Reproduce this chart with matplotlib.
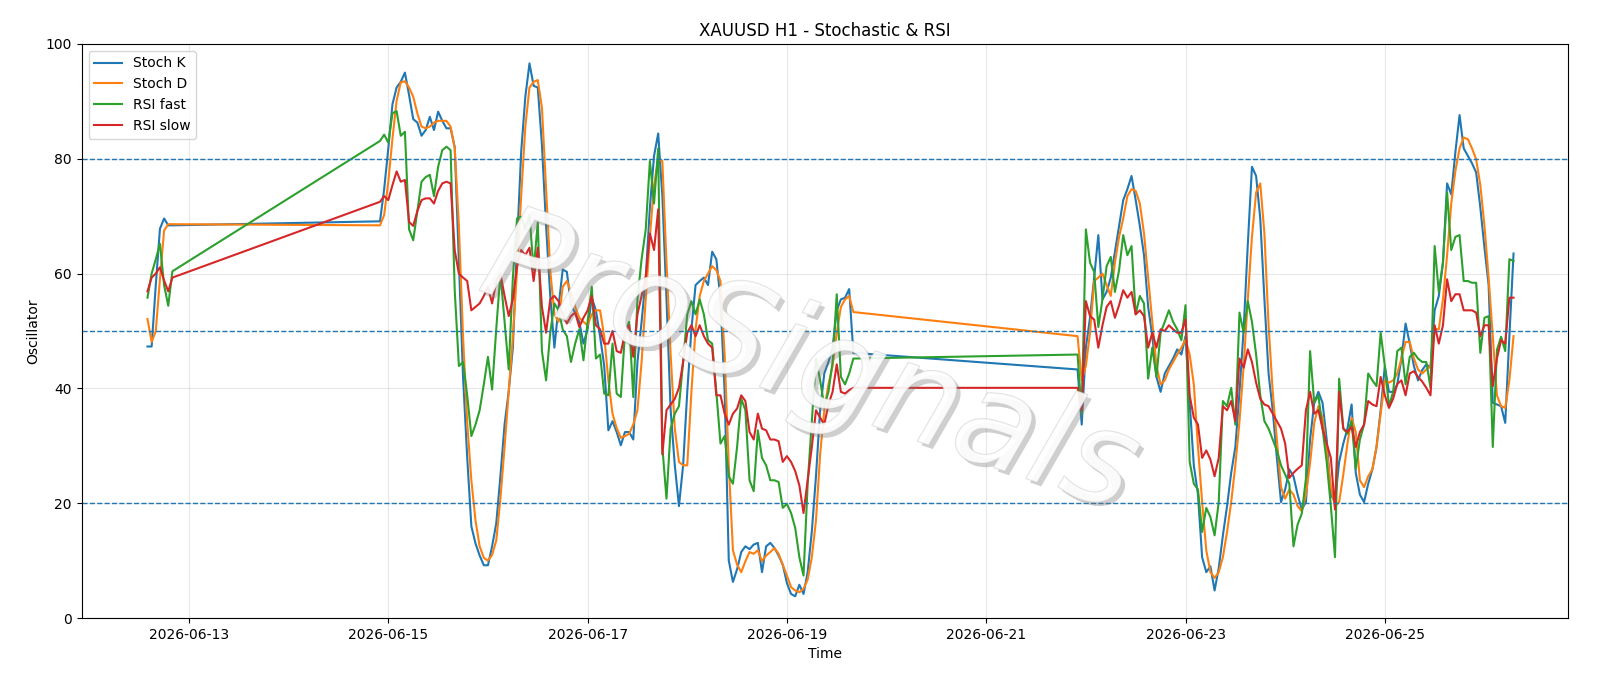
import pandas as pd
import numpy as np
import matplotlib
matplotlib.use('Agg')
import matplotlib.pyplot as plt
import matplotlib.patheffects as pe

# ============================================================
# DATA  (hourly bars, three trading sessions)
# ============================================================
fri_start = '2026-06-12 14:00'
wk1_start = '2026-06-14 22:00'
wk2_start = '2026-06-21 22:00'

stoch_k_fri = [47.3, 47.3, 58.0, 67.8, 69.6, 68.4, 68.4]
stoch_d_fri = [52.1, 48.1, 50.0, 59.0, 67.5, 68.6, 68.6]
rsi_fast_fri = [55.8, 60.0, 62.5, 65.2, 58.0, 54.4, 60.4]
rsi_slow_fri = [56.9, 59.3, 60.0, 61.1, 58.8, 56.9, 59.3]

stoch_k_wk1 = [
    69.1, 74.7, 81.8, 89.5, 92.4, 93.4, 95.0, 91.1, 86.9, 86.3,
    84.0, 85.0, 87.3, 85.0, 88.2, 86.6, 85.3, 85.3, 82.0, 62.0,
    42.0, 28.0, 16.0, 13.0, 10.9, 9.2, 9.2, 12.5, 16.5, 24.7,
    33.7, 39.5, 47.1, 65.1, 81.2, 90.8, 96.6, 92.7, 92.4, 82.4,
    68.3, 56.1, 47.1, 54.2, 60.7, 60.3, 54.5, 53.2, 51.6, 47.8,
    50.3, 55.8, 53.6, 49.1, 43.9, 32.7, 34.3, 32.4, 30.1, 32.4,
    32.4, 31.1, 44.6, 51.6, 59.3, 71.5, 80.5, 84.4, 73.5, 55.5,
    36.2, 26.6, 19.5, 26.6, 39.4, 50.3, 58.0, 58.7, 59.3, 58.0,
    63.8, 62.5, 55.5, 39.4, 10.0, 6.3, 8.5, 11.5, 12.5, 12.0,
    12.8, 13.1, 8.0, 12.5, 13.1, 12.2, 10.9, 9.3, 6.1, 4.2,
    3.8, 5.8, 4.2, 8.0, 15.1, 24.7, 36.2, 42.6, 44.6, 47.1,
    53.6, 55.5, 55.8, 57.3, 46.2]
stoch_d_wk1 = [
    68.4, 70.2, 76.0, 83.5, 90.1, 93.3, 93.5, 92.4, 90.8, 87.9,
    85.6, 85.3, 85.6, 86.3, 86.6, 86.6, 86.6, 85.6, 81.8, 68.3,
    49.0, 34.0, 24.0, 17.0, 12.5, 10.5, 10.0, 11.0, 13.5, 20.8,
    29.8, 39.4, 49.0, 60.6, 73.5, 85.6, 92.4, 93.4, 93.7, 88.9,
    74.7, 60.6, 52.9, 51.6, 57.7, 58.7, 56.8, 54.2, 52.3, 51.6,
    51.0, 52.9, 53.6, 53.6, 49.1, 41.4, 35.6, 33.1, 31.4, 31.7,
    32.1, 33.7, 36.2, 44.6, 55.5, 66.4, 75.4, 79.9, 79.6, 61.9,
    45.9, 33.0, 27.2, 26.6, 26.6, 39.4, 50.3, 56.1, 58.7, 60.0,
    61.3, 60.6, 58.7, 45.9, 26.6, 11.8, 9.3, 8.0, 9.9, 11.5,
    11.2, 11.8, 9.9, 10.9, 11.5, 12.2, 11.2, 9.3, 7.4, 5.4,
    4.8, 4.5, 5.1, 6.7, 10.6, 17.0, 28.5, 36.2, 40.7, 43.9,
    49.7, 54.2, 55.5, 56.1, 53.3]
rsi_fast_wk1 = [
    83.1, 84.2, 82.8, 87.9, 88.3, 84.0, 84.7, 67.7, 65.8, 70.9,
    76.0, 76.8, 77.2, 73.5, 78.6, 81.5, 82.1, 81.5, 57.0, 43.9,
    44.6, 38.8, 31.7, 33.7, 36.2, 40.7, 45.5, 39.8, 50.4, 60.0,
    51.6, 43.3, 59.3, 69.6, 69.9, 67.7, 70.2, 60.6, 68.9, 46.5,
    41.4, 49.7, 54.8, 53.6, 50.3, 49.1, 44.6, 47.8, 50.3, 44.9,
    51.6, 57.7, 45.2, 45.9, 39.1, 38.8, 47.8, 39.1, 38.5, 49.7,
    51.6, 38.5, 55.5, 62.5, 67.7, 79.6, 72.2, 81.8, 29.8, 20.8,
    33.0, 35.6, 36.9, 44.6, 52.9, 55.2, 52.9, 55.5, 52.9, 48.4,
    47.8, 39.4, 30.4, 31.7, 24.7, 23.4, 29.8, 38.2, 36.2, 24.0,
    22.1, 32.7, 27.9, 26.6, 24.0, 24.0, 23.7, 19.2, 19.9, 18.3,
    15.7, 10.6, 7.4, 23.4, 34.3, 45.2, 41.4, 36.9, 39.4, 44.6,
    56.4, 42.0, 40.7, 42.6, 45.2]
rsi_slow_wk1 = [
    72.5, 73.5, 72.8, 75.4, 77.8, 76.0, 76.3, 69.0, 68.3, 70.9,
    72.8, 73.1, 73.1, 72.2, 74.4, 75.7, 76.0, 75.7, 64.0, 60.0,
    59.3, 58.7, 53.6, 54.2, 54.8, 56.1, 57.7, 54.8, 58.7, 60.0,
    56.1, 52.6, 55.5, 61.3, 64.1, 63.2, 64.5, 58.7, 64.5, 54.2,
    49.7, 55.5, 56.1, 55.2, 52.9, 51.3, 52.6, 53.2, 50.7, 52.3,
    53.6, 56.1, 51.0, 50.3, 47.8, 47.8, 50.0, 46.5, 46.2, 49.7,
    51.0, 45.5, 52.9, 56.1, 59.3, 67.0, 64.1, 71.2, 28.5, 36.2,
    37.2, 38.2, 40.1, 44.6, 49.7, 51.0, 49.1, 51.0, 49.1, 47.8,
    47.1, 38.8, 38.8, 35.6, 33.7, 35.6, 36.5, 38.8, 37.8, 32.4,
    31.1, 35.6, 33.0, 32.7, 31.1, 31.1, 30.8, 27.2, 28.2, 27.2,
    25.6, 23.1, 18.3, 24.0, 29.8, 36.2, 34.9, 33.7, 37.2, 39.4,
    44.2, 39.4, 39.1, 39.7, 40.1]

stoch_k_wk2 = [
    43.3, 33.7, 47.1, 52.3, 59.3, 66.7, 55.5, 56.8, 59.3, 63.8,
    68.3, 72.8, 74.7, 77.0, 72.8, 68.3, 63.2, 54.2, 49.1, 42.0,
    39.4, 42.6, 43.9, 45.2, 46.8, 45.9, 49.1, 37.5, 26.6, 21.5,
    10.6, 8.0, 9.0, 4.8, 8.7, 14.4, 19.5, 25.3, 29.8, 39.4,
    50.3, 65.1, 78.6, 77.0, 69.6, 55.5, 42.6, 36.2, 27.9, 20.2,
    22.4, 25.9, 24.7, 21.5, 18.9, 20.2,
    31.1, 37.5, 39.4, 37.5, 31.1, 21.5, 20.2, 27.2, 30.4, 33.0,
    37.2, 25.3, 21.5, 20.2, 23.4, 25.9, 29.8, 36.2, 43.9, 39.4,
    39.4, 40.7, 45.2, 51.3, 47.8, 43.9, 41.4, 43.2, 44.2, 43.6,
    53.6, 56.1, 61.9, 75.7, 73.8, 81.2, 87.6, 81.8, 80.5, 79.2,
    77.6, 71.5, 64.5, 58.0, 37.5, 37.2, 36.9, 34.0, 49.1, 63.5]
stoch_d_wk2 = [
    49.1, 41.4, 43.9, 49.7, 58.7, 59.3, 60.0, 58.0, 56.1, 61.9,
    66.4, 69.6, 73.5, 74.7, 74.4, 72.2, 67.0, 59.3, 51.6, 43.9,
    40.7, 41.4, 43.3, 44.6, 45.9, 47.1, 48.5, 45.9, 40.7, 29.8,
    20.2, 11.8, 8.0, 7.0, 8.0, 10.6, 15.0, 20.2, 26.6, 34.3,
    43.9, 55.5, 66.4, 74.1, 75.7, 67.0, 51.0, 39.4, 31.1, 22.8,
    20.8, 22.4, 21.5, 19.5, 18.6, 21.5,
    27.0, 34.0, 36.9, 34.9, 29.2, 22.8, 19.5, 20.2, 25.0, 30.4,
    34.9, 32.4, 24.0, 22.8, 24.7, 25.9, 29.8, 35.6, 41.4, 41.0,
    41.4, 42.6, 45.2, 48.1, 48.1, 45.2, 43.3, 42.6, 43.3, 43.9,
    50.3, 50.3, 55.5, 63.2, 72.2, 77.9, 81.8, 83.7, 83.4, 81.8,
    79.9, 75.4, 68.3, 59.3, 49.1, 38.8, 36.9, 36.6, 41.4, 49.1]
rsi_fast_wk2 = [
    45.9, 35.6, 67.7, 61.9, 60.3, 50.7, 55.5, 61.3, 62.9, 56.8,
    60.6, 66.7, 63.2, 64.8, 52.9, 56.1, 54.8, 41.7, 47.1, 42.0,
    49.7, 51.6, 53.6, 51.6, 50.3, 48.4, 54.5, 27.2, 23.4, 22.4,
    15.0, 19.2, 17.6, 14.4, 20.2, 37.8, 36.9, 40.1, 33.7, 53.2,
    49.7, 55.2, 51.6, 45.9, 38.8, 34.3, 33.0, 31.1, 29.2, 26.6,
    25.0, 23.4, 12.5, 16.3, 18.2, 24.3,
    46.5, 37.5, 38.8, 33.0, 27.2, 19.5, 10.6, 41.7, 33.0, 32.1,
    34.3, 26.0, 31.1, 33.7, 42.6, 41.4, 40.4, 49.7, 43.9, 36.9,
    39.4, 46.5, 47.1, 40.7, 45.5, 46.2, 45.2, 44.6, 44.6, 40.1,
    64.8, 56.8, 61.9, 74.1, 64.1, 66.4, 66.7, 58.7, 58.7, 58.4,
    58.4, 46.2, 52.3, 52.6, 29.8, 46.7, 49.0, 46.5, 62.5, 62.2]
rsi_slow_wk2 = [
    40.1, 36.2, 55.2, 52.6, 52.0, 47.1, 51.0, 54.2, 55.2, 52.3,
    54.5, 57.1, 55.8, 56.8, 52.9, 53.6, 52.6, 47.1, 49.7, 47.1,
    50.3, 50.0, 51.0, 50.3, 49.7, 49.7, 52.0, 38.8, 34.9, 33.7,
    27.9, 29.2, 27.6, 24.7, 27.9, 36.9, 36.2, 37.8, 34.3, 45.2,
    43.6, 46.8, 44.6, 41.0, 38.2, 37.2, 36.9, 35.6, 34.3, 33.0,
    30.4, 24.4, 25.3, 26.0, 26.6, 36.2,
    39.4, 35.6, 36.2, 33.0, 30.4, 27.9, 18.9, 39.4, 33.0, 32.4,
    33.3, 29.8, 32.4, 33.7, 37.8, 37.2, 36.9, 42.0, 38.8, 36.6,
    38.2, 40.8, 41.4, 38.8, 42.6, 43.0, 42.0, 41.2, 40.1, 38.8,
    51.0, 47.8, 51.0, 59.0, 55.2, 56.4, 56.4, 53.6, 53.6, 53.6,
    53.2, 49.1, 51.0, 51.0, 40.4, 45.2, 48.4, 47.8, 55.8, 55.8]

# ============================================================
# BUILD FRAME
# ============================================================
def session(start, k, d, fast, slow):
    idx = pd.date_range(start, periods=len(k), freq='h')
    return pd.DataFrame({'stoch_k': k, 'stoch_d': d,
                         'rsi_fast': fast, 'rsi_slow': slow}, index=idx)

df = pd.concat([
    session(fri_start, stoch_k_fri, stoch_d_fri, rsi_fast_fri, rsi_slow_fri),
    session(wk1_start, stoch_k_wk1, stoch_d_wk1, rsi_fast_wk1, rsi_slow_wk1),
    session(wk2_start, stoch_k_wk2, stoch_d_wk2, rsi_fast_wk2, rsi_slow_wk2),
])

# ============================================================
# PLOT
# ============================================================
fig, ax = plt.subplots(figsize=(16, 6.86), dpi=100)
fig.subplots_adjust(left=0.051, right=0.98, top=0.936, bottom=0.099)

ax.plot(df.index, df['stoch_k'], color='tab:blue', lw=1.5, label='Stoch K')
ax.plot(df.index, df['stoch_d'], color='tab:orange', lw=1.5, label='Stoch D')
ax.plot(df.index, df['rsi_fast'], color='tab:green', lw=1.5, label='RSI fast')
ax.plot(df.index, df['rsi_slow'], color='tab:red', lw=1.5, label='RSI slow')

for lvl in (20, 50, 80):
    ax.axhline(lvl, color='tab:blue', linestyle='--', linewidth=1)

ax.set_ylim(0, 100)
ax.set_xlim(pd.Timestamp('2026-06-11 22:08'), pd.Timestamp('2026-06-26 20:07'))
ax.grid(True, alpha=0.3)
ax.set_title('XAUUSD H1 - Stochastic & RSI')
ax.set_xlabel('Time')
ax.set_ylabel('Oscillator')
ax.legend(loc='upper left')

# watermark
ax.text(0.49, 0.44, 'ProSignals', transform=ax.transAxes, fontsize=94,
        rotation=-19, ha='center', va='center', style='italic',
        color='white', alpha=0.55, zorder=10,
        path_effects=[pe.withSimplePatchShadow(offset=(3, -3), shadow_rgbFace='#777777', alpha=0.35),
                      pe.Stroke(linewidth=1.0, foreground='#c4c4c4'), pe.Normal()])

plt.savefig('out.png', dpi=100)
plt.close()
